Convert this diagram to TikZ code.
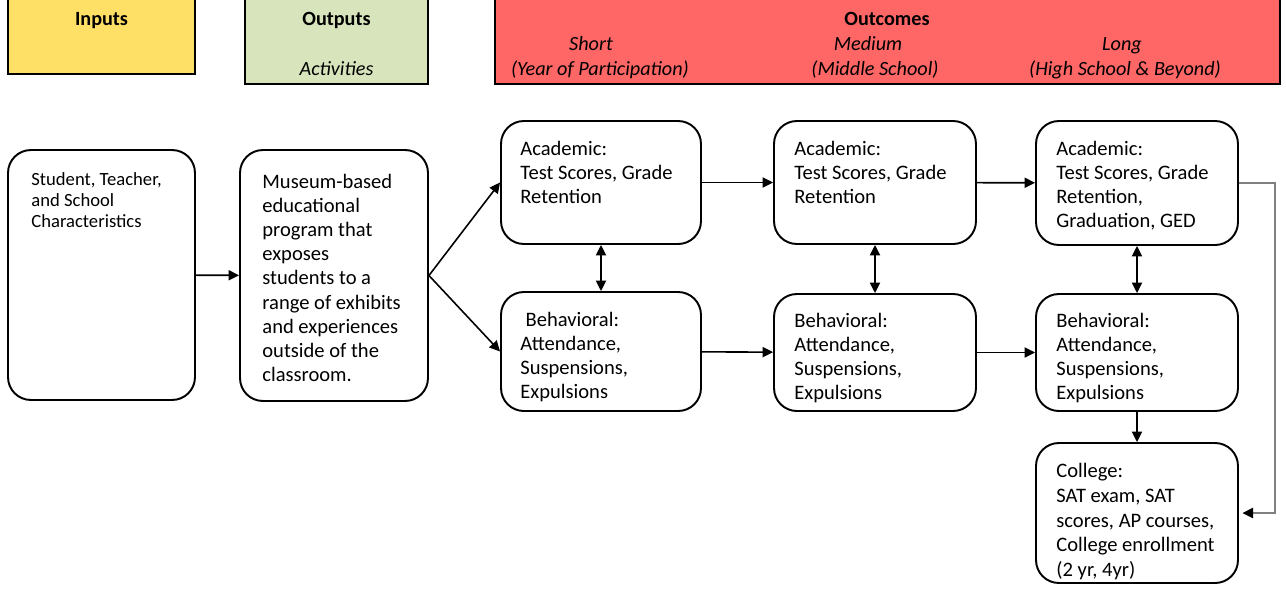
\documentclass[tikz,border=0pt]{standalone}
\usepackage{fontspec}
\setmainfont{Carlito}
\usetikzlibrary{arrows.meta}

\definecolor{inyellow}{HTML}{FFE066}
\definecolor{outgreen}{HTML}{D8E4BC}
\definecolor{ocred}{HTML}{FF6666}

\begin{document}
\begin{tikzpicture}[x=0.02cm,y=-0.02cm]
  \useasboundingbox (0,0) rectangle (1286,592);

      % header bars
      \begin{scope}[every node/.style={draw,line width=0.9pt,inner sep=0}]
        \node[fill=inyellow,minimum width=3.74cm,minimum height=1.5cm] (hIn) at (101.5,36.5) {};
        \node[fill=outgreen,minimum width=3.66cm,minimum height=1.7cm] (hOut) at (336.5,41.5) {};
        \node[fill=ocred,minimum width=15.7cm,minimum height=1.7cm] (hOc) at (887.5,41.5) {};
      \end{scope}

      \begin{scope}[every node/.style={inner sep=0,text height=8pt,text depth=2.5pt,
          font=\itshape\fontsize{11.5}{13.7}\selectfont}]
        \node[font=\bfseries\fontsize{11.5}{13.7}\selectfont] (tIn) at (101.5,20.5) {Inputs};
        \node[font=\bfseries\fontsize{11.5}{13.7}\selectfont] (tOut) at (336.5,20.5) {Outputs};
        \node (tAct) at (336.5,71) {Activities};
        \node[font=\bfseries\fontsize{11.5}{13.7}\selectfont] (tOc) at (887,20.5) {Outcomes};
        \node (tShort) at (591,45.5) {Short};
        \node (tShortB) at (600,70.5) {(Year of Participation)};
        \node (tMed) at (868,45.5) {Medium};
        \node (tMedB) at (875,70.5) {(Middle School)};
        \node (tLong) at (1122,45.5) {Long};
        \node (tLongB) at (1125,70.5) {(High School \& Beyond)};
      \end{scope}

      % boxes
      \begin{scope}[every node/.style={draw,rounded corners=13pt,line width=1.1pt,inner sep=0}]
        \node[minimum width=3.74cm,minimum height=5cm] (inp) at (101.5,275) {};
        \node[minimum width=3.76cm,minimum height=5.02cm] (prog) at (334,275.5) {};
        \node[minimum width=4cm,minimum height=2.46cm] (acS) at (601,182.5) {};
        \node[minimum width=4cm,minimum height=2.38cm] (beS) at (601,351.5) {};
        \node[minimum width=4.04cm,minimum height=2.46cm] (acM) at (875,182.5) {};
        \node[minimum width=4.04cm,minimum height=2.34cm] (beM) at (875,352.5) {};
        \node[minimum width=4.04cm,minimum height=2.48cm] (acL) at (1137,183) {};
        \node[minimum width=4.04cm,minimum height=2.34cm] (beL) at (1137,352.5) {};
        \node[minimum width=4.04cm,minimum height=2.8cm] (col) at (1137,513) {};
      \end{scope}

      \begin{scope}[every node/.style={anchor=north west,align=left,inner sep=0,
          font=\fontsize{11.7}{13.7}\selectfont}]
        \node[font=\fontsize{10.6}{11.9}\selectfont] (inp-t) at ([shift={(24,23)}]inp.north west)
          {Student, Teacher,\\and School\\Characteristics};
        \node (prog-t) at ([shift={(23,25)}]prog.north west)
          {Museum-based\\educational\\program that\\exposes\\students to a\\range of exhibits\\and experiences\\outside of the\\classroom.};
        \node (acS-t) at ([shift={(20,21)}]acS.north west) {Academic:\\Test Scores, Grade\\Retention};
        \node (beS-t) at ([shift={(20,21)}]beS.north west) {\hspace*{3pt}Behavioral:\\Attendance,\\Suspensions,\\Expulsions};
        \node (acM-t) at ([shift={(21,21)}]acM.north west) {Academic:\\Test Scores, Grade\\Retention};
        \node (beM-t) at ([shift={(21,20)}]beM.north west) {Behavioral:\\Attendance,\\Suspensions,\\Expulsions};
        \node (acL-t) at ([shift={(21,21)}]acL.north west) {Academic:\\Test Scores, Grade\\Retention,\\Graduation, GED};
        \node (beL-t) at ([shift={(21,20)}]beL.north west) {Behavioral:\\Attendance,\\Suspensions,\\Expulsions};
        \node[font=\fontsize{11.7}{14.1}\selectfont] (col-t) at ([shift={(21,21)}]col.north west)
          {College:\\SAT exam, SAT\\scores, AP courses,\\College enrollment\\(2 yr, 4yr)};
      \end{scope}

      \begin{scope}[>={Triangle[length=6pt,width=5.8pt]},
          every edge/.style={draw=black,line width=0.9pt}]
        \path [->] (inp) edge (prog);
        \path [->] (prog.east) edge (acS.west);
        \path [->] (prog.east) edge (beS.west);
        \path [->] (acS) edge (acM);
        \path [->] (acM) edge (acL);
        \path [->] (beS) edge (beM);
        \path [->] (beM) edge (beL);
        \path [<->] (acS) edge (beS);
        \path [<->] (acM) edge (beM);
        \path [<->] (acL) edge (beL);
        \path [->] (beL) edge (col);
      \end{scope}

      \draw [gray,line width=0.75pt,-{Triangle[length=6pt,width=5.8pt,black]}]
        (acL.east) -- ++(36,0) |- ([xshift=2pt]col.east);
    \end{tikzpicture}
\end{document}
